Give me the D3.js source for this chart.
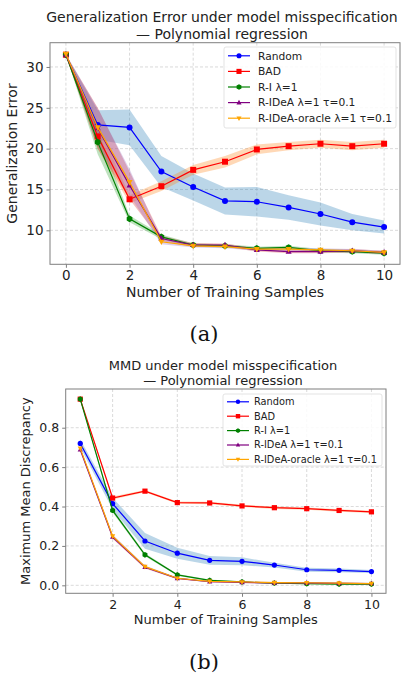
<!DOCTYPE html>
<html>
<head>
<meta charset="utf-8">
<script src="https://cdn.jsdelivr.net/npm/d3@7"></script>
<style>
  body { margin: 0; background: #fff; }
  svg { display: block; font-family: "DejaVu Sans", sans-serif; }
</style>
</head>
<body>
<svg id="drawspace" width="401" height="673"></svg>
<script>
// series names shared by both panels
const seriesNames = ["Random", "BAD", "R-I \u03bb=1", "R-IDeA \u03bb=1 \u03c4=0.1", "R-IDeA-oracle \u03bb=1 \u03c4=0.1"];
const lineColors = ["blue", "red", "green", "purple", "orange"];
const bandColors = ["#1f77b4", "#ff7f0e", "#2ca02c", "#d62728", "#9467bd"];

// panel (a): generalization error, x = 0..10
const samplesA = [0, 1, 2, 3, 4, 5, 6, 7, 8, 9, 10];
const randomA = [31.5, 22.9, 22.6, 17.2, 15.3, 13.6, 13.5, 12.8, 12.0, 11.0, 10.4];
const badA = [31.5, 21.5, 13.8, 15.4, 17.4, 18.4, 19.9, 20.3, 20.6, 20.3, 20.6];
const riA = [31.5, 20.8, 11.4, 9.2, 8.2, 8.1, 7.8, 7.9, 7.5, 7.4, 7.2];
const rideaA = [31.5, 22.5, 15.5, 9.0, 8.2, 8.2, 7.6, 7.4, 7.4, 7.5, 7.3];
const oracleA = [31.6, 22.6, 15.9, 8.6, 8.1, 8.0, 7.7, 7.7, 7.6, 7.5, 7.3];
const randomStdA = [0, 1.8, 2.2, 1.9, 1.65, 1.65, 1.8, 1.5, 1.4, 1.0, 0.8];
const badStdA = [0, 1.5, 0.5, 0.6, 0.6, 0.7, 0.6, 0.5, 0.5, 0.5, 0.5];
const riStdA = [0, 1.5, 0.4, 0.3, 0.2, 0.2, 0.2, 0.2, 0.2, 0.2, 0.2];
const rideaStdA = [0, 2.5, 1.7, 0.3, 0.25, 0.2, 0.2, 0.2, 0.2, 0.2, 0.2];
const oracleStdA = [0, 2.3, 1.6, 0.3, 0.2, 0.2, 0.2, 0.2, 0.2, 0.2, 0.2];
const xTicksA = [0, 2, 4, 6, 8, 10];
const yTicksA = [10, 15, 20, 25, 30];

// panel (b): MMD, x = 1..10
const samplesB = [1, 2, 3, 4, 5, 6, 7, 8, 9, 10];
const randomB = [0.72, 0.415, 0.225, 0.163, 0.127, 0.122, 0.103, 0.079, 0.076, 0.070];
const badB = [0.945, 0.443, 0.478, 0.420, 0.418, 0.403, 0.394, 0.389, 0.380, 0.373];
const riB = [0.945, 0.380, 0.155, 0.053, 0.025, 0.017, 0.011, 0.008, 0.006, 0.006];
const rideaB = [0.688, 0.245, 0.092, 0.035, 0.018, 0.015, 0.012, 0.012, 0.010, 0.009];
const oracleB = [0.695, 0.250, 0.095, 0.036, 0.020, 0.017, 0.014, 0.013, 0.011, 0.009];
const randomStdB = [0.02, 0.03, 0.04, 0.028, 0.022, 0.02, 0.012, 0.01, 0.01, 0.008];
const badStdB = [0.005, 0.008, 0.006, 0.006, 0.006, 0.006, 0.006, 0.006, 0.006, 0.006];
const riStdB = [0.005, 0.01, 0.008, 0.005, 0.004, 0.003, 0.003, 0.003, 0.003, 0.003];
const rideaStdB = [0.005, 0.008, 0.006, 0.004, 0.003, 0.003, 0.003, 0.003, 0.003, 0.003];
const oracleStdB = [0.005, 0.008, 0.006, 0.004, 0.003, 0.003, 0.003, 0.003, 0.003, 0.003];
const xTicksB = [2, 4, 6, 8, 10];
const yTicksB = [0.0, 0.2, 0.4, 0.6, 0.8];

let drawSpace = d3.select("#drawspace");

// marker symbols: circle, square, hexagon, triangle up, triangle down
function markerPath(kind, r) {
  if (kind == 0) return d3.symbol(d3.symbolCircle, Math.PI * r * r)();
  if (kind == 1) return `M${-r},${-r}H${r}V${r}H${-r}Z`;
  if (kind == 2) {
    let pts = d3.range(6).map(i => {
      let a = Math.PI / 6 + i * Math.PI / 3;
      return [r * 1.1 * Math.cos(a), r * 1.1 * Math.sin(a)];
    });
    return "M" + pts.join("L") + "Z";
  }
  if (kind == 3) return `M0,${-r * 1.1}L${r},${r * 0.7}L${-r},${r * 0.7}Z`;
  return `M0,${r * 1.1}L${r},${-r * 0.7}L${-r},${-r * 0.7}Z`;
}

function drawPanel(p) {
  let g = drawSpace.append("g");
  let xScale = d3.scaleLinear().domain(p.xDomain).range([p.left, p.right]);
  let yScale = d3.scaleLinear().domain(p.yDomain).range([p.bottom, p.top]);

  // grid
  g.selectAll(".gx").data(p.xTicks).enter().append("line")
    .attr("x1", d => xScale(d)).attr("x2", d => xScale(d))
    .attr("y1", p.top).attr("y2", p.bottom)
    .attr("stroke", "#d0d0d0").attr("stroke-width", 0.8).attr("stroke-dasharray", "3,2");
  g.selectAll(".gy").data(p.yTicks).enter().append("line")
    .attr("x1", p.left).attr("x2", p.right)
    .attr("y1", d => yScale(d)).attr("y2", d => yScale(d))
    .attr("stroke", "#d0d0d0").attr("stroke-width", 0.8).attr("stroke-dasharray", "3,2");

  // bands
  let area = d3.area()
    .x((d, i) => xScale(p.xs[i]))
    .y0(d => yScale(d[0] - d[1]))
    .y1(d => yScale(d[0] + d[1]));
  p.series.forEach((s, k) => {
    g.append("path")
      .attr("d", area(d3.zip(s, p.stds[k])))
      .attr("fill", bandColors[k]).attr("fill-opacity", 0.3);
  });

  // lines and markers
  let line = d3.line().x((d, i) => xScale(p.xs[i])).y(d => yScale(d));
  p.series.forEach((s, k) => {
    g.append("path").attr("d", line(s))
      .attr("fill", "none").attr("stroke", lineColors[k]).attr("stroke-width", 1.2);
    g.selectAll(".m" + k).data(s).enter().append("path")
      .attr("transform", (d, i) => `translate(${xScale(p.xs[i])},${yScale(d)})`)
      .attr("d", markerPath(k, p.markerR))
      .attr("fill", lineColors[k]);
  });

  // frame
  g.append("rect")
    .attr("x", p.left).attr("y", p.top)
    .attr("width", p.right - p.left).attr("height", p.bottom - p.top)
    .attr("fill", "none").attr("stroke", "#7f7f7f").attr("stroke-width", 1);

  // axes
  let xAxis = d3.axisBottom(xScale).tickValues(p.xTicks).tickSize(3.5).tickPadding(3)
    .tickFormat(d3.format("d"));
  let yAxis = d3.axisLeft(yScale).tickValues(p.yTicks).tickSize(3.5).tickPadding(3)
    .tickFormat(p.yFormat);
  let xa = g.append("g").attr("transform", `translate(0,${p.bottom})`).call(xAxis);
  let ya = g.append("g").attr("transform", `translate(${p.left},0)`).call(yAxis);
  [xa, ya].forEach(a => {
    a.select(".domain").remove();
    a.selectAll(".tick line").attr("stroke", "#7f7f7f");
    a.selectAll("text").attr("font-size", p.tickFont).attr("fill", "#222")
      .attr("font-family", "DejaVu Sans");
  });

  // titles and labels
  let cx = (p.left + p.right) / 2;
  p.title.forEach((t, i) => {
    g.append("text").attr("x", p.titleX).attr("y", p.titleY + i * p.titleGap)
      .attr("text-anchor", "middle").attr("font-size", p.titleFont).attr("fill", "#222").text(t);
  });
  g.append("text").attr("x", cx).attr("y", p.xLabelY)
    .attr("text-anchor", "middle").attr("font-size", p.labelFont).attr("fill", "#222").text(p.xLabel);
  g.append("text")
    .attr("transform", `translate(${p.yLabelX},${(p.top + p.bottom) / 2}) rotate(-90)`)
    .attr("text-anchor", "middle").attr("font-size", p.labelFont).attr("fill", "#222").text(p.yLabel);

  // legend
  let lg = p.legend;
  g.append("rect").attr("x", lg.x).attr("y", lg.y).attr("width", lg.w).attr("height", lg.h)
    .attr("rx", 2).attr("fill", "white").attr("fill-opacity", 0.85)
    .attr("stroke", "#dcdcdc").attr("stroke-width", 0.8);
  seriesNames.forEach((name, k) => {
    let yy = lg.y + lg.first + k * lg.step;
    g.append("line").attr("x1", lg.x + 4).attr("x2", lg.x + 26).attr("y1", yy).attr("y2", yy)
      .attr("stroke", lineColors[k]).attr("stroke-width", 1.2);
    g.append("path").attr("transform", `translate(${lg.x + 15},${yy})`)
      .attr("d", markerPath(k, p.markerR * 0.85)).attr("fill", lineColors[k]);
    g.append("text").attr("x", lg.x + lg.textDx).attr("y", yy).attr("dy", "0.35em")
      .attr("font-size", lg.font).attr("fill", "#222").text(name);
  });

  // caption
  drawSpace.append("text").attr("x", 204).attr("y", p.captionY)
    .attr("text-anchor", "middle").attr("font-family", "DejaVu Serif, Liberation Serif, serif")
    .attr("font-size", 21).attr("fill", "#111").text(p.caption);
}

drawPanel({
  xs: samplesA,
  series: [randomA, badA, riA, rideaA, oracleA],
  stds: [randomStdA, badStdA, riStdA, rideaStdA, oracleStdA],
  xDomain: [-0.5, 10.5], yDomain: [5.84, 32.97],
  left: 50, right: 400, top: 42.7, bottom: 264.3,
  xTicks: xTicksA, yTicks: yTicksA, yFormat: d3.format("d"),
  markerR: 3, tickFont: 13.5,
  title: ["Generalization Error under model misspecification", "\u2014 Polynomial regression"],
  titleX: 222, titleY: 22, titleGap: 16.5, titleFont: 14,
  xLabel: "Number of Training Samples", xLabelY: 297, yLabel: "Generalization Error", yLabelX: 17,
  labelFont: 14,
  legend: { x: 224, y: 47, w: 172, h: 81, first: 8.8, step: 15.6, font: 10.7, textDx: 34 },
  caption: "(a)", captionY: 341
});

drawPanel({
  xs: samplesB,
  series: [randomB, badB, riB, rideaB, oracleB],
  stds: [randomStdB, badStdB, riStdB, rideaStdB, oracleStdB],
  xDomain: [0.55, 10.45], yDomain: [-0.0405, 0.9965],
  left: 65.7, right: 386, top: 389, bottom: 593.3,
  xTicks: xTicksB, yTicks: yTicksB, yFormat: d3.format(".1f"),
  markerR: 2.6, tickFont: 12.5,
  title: ["MMD under model misspecification", "\u2014 Polynomial regression"],
  titleX: 223, titleY: 369.5, titleGap: 15, titleFont: 13,
  xLabel: "Number of Training Samples", xLabelY: 623.5, yLabel: "Maximum Mean Discrepancy", yLabelX: 30,
  labelFont: 13,
  legend: { x: 223, y: 394, w: 159, h: 72, first: 7.8, step: 14.4, font: 9.8, textDx: 31 },
  caption: "(b)", captionY: 669
});
</script>
</body>
</html>
